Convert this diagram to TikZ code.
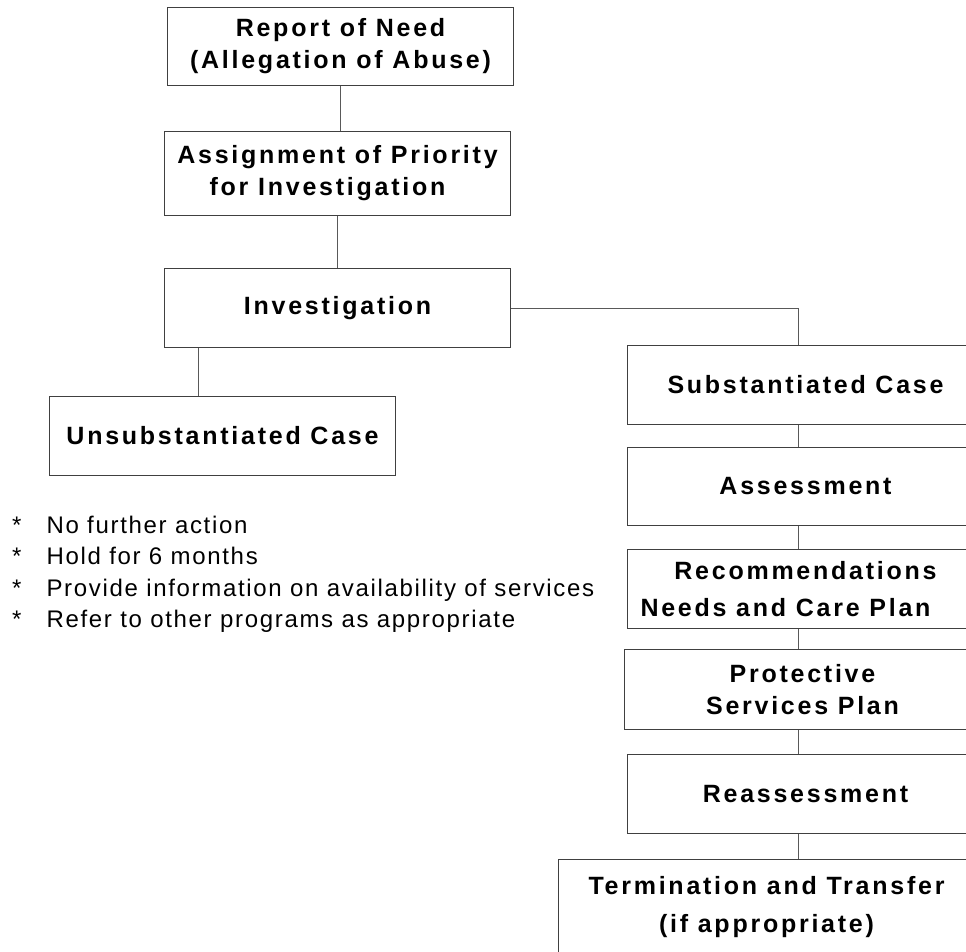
\documentclass[tikz,border=0pt]{standalone}
\usepackage{fontspec}
\setmainfont{Liberation Sans}
\newfontfamily\boxfont{Liberation Sans}[LetterSpace=11]
\newfontfamily\notefont{Liberation Sans}[LetterSpace=7]
\usetikzlibrary{positioning}
\tikzstyle{etapa} = [draw=black!75, line width=1pt, rectangle, inner sep=0pt, anchor=north west, minimum width=346pt, minimum height=79pt, align=center, font=\boxfont\fontsize{25}{32}\selectfont\bfseries]
\tikzstyle{etapaderecha} = [etapa, minimum width=356pt]
\tikzstyle{enlace} = [draw=black!65, line width=1pt]
\tikzstyle{nota} = [anchor=base west, inner sep=0pt, font=\notefont\fontsize{24}{31.5}\selectfont]

\begin{document}
\begin{tikzpicture}[x=1pt, y=-1pt]
	\useasboundingbox[fill=white] (0,0) rectangle (966,951);
	\coordinate (rama) at (198,0);
	\coordinate (espina) at (798,0);
	% left column
	\node [etapa, minimum height=78pt] (reporte) at (167,7) {Report of Need\\(Allegation of Abuse)};
	\node [etapa, minimum height=84pt] (prioridad) at (164,131) {Assignment of Priority\\for Investigation\hspace*{20pt}};
	\node [etapa] (investigacion) at (164,268) {Investigation};
	\node [etapa] (nosustentado) at (49,396) {Unsubstantiated Case};
	\node [nota] (acciones) at (12,533) {%
		\begin{tabular}[t]{@{}l@{\hspace{25pt}}l@{}}
			{*} & No further action\\
			{*} & Hold for 6 months\\
			{*} & Provide information on availability of services\\
			{*} & Refer to other programs as appropriate
		\end{tabular}};
	% right column
	\node [etapaderecha] (sustentado) at (627,345) {Substantiated Case};
	\node [etapaderecha, minimum height=78pt] (evaluacion) at (627,447) {Assessment};
	\node [etapaderecha] (recomendaciones) at (627,549) {Recommendations\\[5pt]Needs and Care Plan\hspace*{40pt}};
	\node [etapaderecha, minimum height=80pt] (plan) at (624,649) {Protective\\Services Plan};
	\node [etapaderecha] (reevaluacion) at (627,754) {Reassessment};
	\node [etapaderecha, minimum width=416pt, minimum height=96pt] (termino) at (558,859) {Termination and Transfer\\[6pt](if appropriate)};
	% connectors
	\draw [enlace] (reporte.south) -- (reporte.south |- prioridad.north);
	\draw [enlace] (prioridad.south) -- (prioridad.south |- investigacion.north);
	\draw [enlace] (investigacion.south -| rama) -- (nosustentado.north -| rama);
	\draw [enlace] (investigacion.east) -| (sustentado.north -| espina);
	\draw [enlace] (sustentado.south -| espina) -- (evaluacion.north -| espina);
	\draw [enlace] (evaluacion.south -| espina) -- (recomendaciones.north -| espina);
	\draw [enlace] (recomendaciones.south -| espina) -- (plan.north -| espina);
	\draw [enlace] (plan.south -| espina) -- (reevaluacion.north -| espina);
	\draw [enlace] (reevaluacion.south -| espina) -- (termino.north -| espina);
\end{tikzpicture}
\end{document}
